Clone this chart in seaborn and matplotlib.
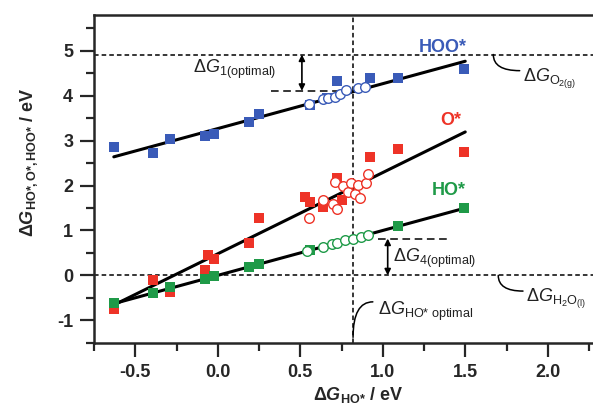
import numpy as np
import pandas as pd
import matplotlib
matplotlib.use("Agg")
import matplotlib.pyplot as plt
import seaborn as sns

# ---------------- data ----------------
hoo_x = [-0.63, -0.39, -0.29, -0.08, -0.02, 0.19, 0.25, 0.56, 0.66, 0.72, 0.92, 1.09, 1.49]
hoo_y = [2.86, 2.73, 3.04, 3.11, 3.16, 3.42, 3.59, 3.79, 3.94, 4.33, 4.40, 4.40, 4.60]
o_x = [-0.63, -0.39, -0.29, -0.08, -0.06, -0.02, 0.19, 0.25, 0.53, 0.56, 0.64, 0.72, 0.75, 0.92, 1.09, 1.49]
o_y = [-0.74, -0.10, -0.37, 0.11, 0.46, 0.37, 0.72, 1.28, 1.75, 1.64, 1.53, 2.16, 1.67, 2.63, 2.81, 2.75]
ho_x = [-0.63, -0.39, -0.29, -0.08, -0.02, 0.19, 0.25, 0.56, 1.09, 1.49]
ho_y = [-0.62, -0.40, -0.26, -0.07, -0.02, 0.19, 0.26, 0.56, 1.09, 1.50]

hoo_open_x = [0.55, 0.64, 0.67, 0.71, 0.74, 0.78, 0.85, 0.89]
hoo_open_y = [3.81, 3.93, 3.96, 3.98, 4.04, 4.13, 4.17, 4.20]
o_open_x = [0.55, 0.64, 0.70, 0.72, 0.71, 0.76, 0.79, 0.81, 0.83, 0.86, 0.85, 0.90, 0.91]
o_open_y = [1.28, 1.67, 1.60, 1.47, 2.08, 2.00, 1.86, 2.05, 1.82, 1.73, 2.01, 2.05, 2.25]
ho_open_x = [0.54, 0.64, 0.69, 0.72, 0.77, 0.82, 0.87, 0.91]
ho_open_y = [0.54, 0.63, 0.69, 0.73, 0.78, 0.82, 0.86, 0.89]

fit_range = [-0.63, 1.50]
hoo_fit = (1.00, 3.27)
o_fit = (1.81, 0.48)
ho_fit = (1.00, 0.00)

dG_O2 = 4.92
dG_H2O = 0.0
dG_HO_opt = 0.82
dG1_level = 4.11
dG4_level = 0.82

blue = "#3a5bb8"
red = "#ee3327"
green = "#1f9a48"

sns.set_theme(style="ticks")
plt.rcParams["font.family"] = ["Liberation Sans", "DejaVu Sans"]
plt.rcParams["mathtext.fontset"] = "custom"
plt.rcParams["mathtext.rm"] = "Liberation Sans"
plt.rcParams["mathtext.it"] = "Liberation Sans:italic"
plt.rcParams["mathtext.bf"] = "Liberation Sans:bold"
plt.rcParams["mathtext.bfit"] = "Liberation Sans:italic:bold"

x_max = 2.75
px_per_ev = 165.0
fig = plt.figure(figsize=(5.93, 4.04), dpi=100)
ax = fig.add_axes([94 / 593, 61.3 / 404, (x_max + 0.75) * px_per_ev / 593, 327.7 / 404])

dash = (0, (3, 2))
ax.axhline(dG_O2, color="black", lw=1.1, ls=dash, zorder=1)
ax.axhline(dG_H2O, color="black", lw=1.1, ls=dash, zorder=1)
ax.axvline(dG_HO_opt, color="black", lw=1.1, ls=dash, zorder=1)

for (m, b) in (hoo_fit, o_fit, ho_fit):
    xs = np.array(fit_range)
    d = pd.DataFrame({"x": xs, "y": m * xs + b})
    sns.lineplot(data=d, x="x", y="y", ax=ax, color="black", lw=2.2, zorder=3)

for xs, ys, c in ((hoo_x, hoo_y, blue), (o_x, o_y, red), (ho_x, ho_y, green)):
    d = pd.DataFrame({"x": xs, "y": ys})
    sns.scatterplot(data=d, x="x", y="y", ax=ax, marker="s", s=42, color=c,
                    edgecolor=c, linewidth=0, zorder=4)

for xs, ys, c in ((hoo_open_x, hoo_open_y, blue), (o_open_x, o_open_y, red),
                  (ho_open_x, ho_open_y, green)):
    d = pd.DataFrame({"x": xs, "y": ys})
    sns.scatterplot(data=d, x="x", y="y", ax=ax, marker="o", s=48, facecolor="white",
                    edgecolor=c, linewidth=1.0, zorder=5)

ax.plot([0.32, 0.82], [dG1_level, dG1_level], color="black", lw=1.1, ls=(0, (5, 3)), zorder=2)
ax.plot([0.97, 1.39], [dG4_level, dG4_level], color="black", lw=1.1, ls=(0, (5, 3)), zorder=2)

arrow_kw = dict(arrowstyle="<|-|>", color="black", lw=1.2, mutation_scale=9, shrinkA=0, shrinkB=0)
ax.annotate("", xy=(0.51, dG_O2), xytext=(0.51, dG1_level), arrowprops=arrow_kw)
ax.annotate("", xy=(1.03, dG4_level), xytext=(1.03, dG_H2O), arrowprops=arrow_kw)

lead_kw = dict(arrowstyle="-", color="black", lw=1.1, shrinkA=0, shrinkB=0,
               connectionstyle="angle3,angleA=0,angleB=90")
ax.annotate("", xy=(1.67, dG_O2), xytext=(1.83, 4.56), arrowprops=lead_kw)
ax.annotate("", xy=(1.70, dG_H2O), xytext=(1.85, -0.35), arrowprops=lead_kw)
ax.annotate("", xy=(dG_HO_opt, -1.38), xytext=(0.94, -0.59), arrowprops=lead_kw)

fs = 13
ax.text(-0.15, 4.50, r"$\Delta G_{\mathrm{1(optimal)}}$", fontsize=fs, color="#222222", va="baseline")
ax.text(1.065, 0.30, r"$\Delta G_{\mathrm{4(optimal)}}$", fontsize=fs, color="#222222", va="baseline")
ax.text(1.85, 4.31, r"$\Delta G_{\mathrm{O_{2(g)}}}$", fontsize=fs, color="#222222", va="baseline")
ax.text(1.87, -0.60, r"$\Delta G_{\mathrm{H_2O_{(l)}}}$", fontsize=fs, color="#222222", va="baseline")
ax.text(0.97, -0.89, r"$\Delta G_{\mathrm{HO{*}\ optimal}}$", fontsize=fs, color="#222222", va="baseline")

ax.text(1.365, 5.07, "HOO*", color=blue, fontsize=13, fontweight="bold", ha="center", va="center")
ax.text(1.41, 3.46, "O*", color=red, fontsize=13, fontweight="bold", ha="center", va="center")
ax.text(1.40, 1.90, "HO*", color=green, fontsize=13, fontweight="bold", ha="center", va="center")

ax.set_xlim(-0.75, x_max)
ax.set_ylim(-1.5, 5.8)
ax.set_xticks([-0.5, 0.0, 0.5, 1.0, 1.5, 2.0])
ax.set_xticklabels(["-0.5", "0.0", "0.5", "1.0", "1.5", "2.0"])
ax.set_xticks([-0.75, -0.25, 0.25, 0.75, 1.25, 1.75, 2.25], minor=True)
ax.set_yticks([-1, 0, 1, 2, 3, 4, 5])
ax.set_yticklabels(["-1", "0", "1", "2", "3", "4", "5"])
ax.set_yticks(np.arange(-1.5, 5.81, 0.5), minor=True)
ax.tick_params(axis="both", which="major", length=10, width=1.6, labelsize=13, pad=5)
ax.tick_params(axis="both", which="minor", length=6, width=1.6)
for lab in ax.get_xticklabels() + ax.get_yticklabels():
    lab.set_fontweight("bold")
for name, sp in ax.spines.items():
    sp.set_linewidth(1.8)
    sp.set_visible(name != "right")

ax.set_xlabel(r"$\mathbf{\Delta}\mathbfit{G}_{\mathbf{HO{*}}}\ $/ eV", fontsize=13, fontweight="bold")
ax.set_ylabel(r"$\mathbf{\Delta}\mathbfit{G}_{\mathbf{HO{*},O{*},HOO{*}}}\ $/ eV", fontsize=13, fontweight="bold")
ax.xaxis.set_label_coords((358 - 94) / ((x_max + 0.75) * px_per_ev), -0.128)
ax.yaxis.set_label_coords(-0.10 * 536 / ((x_max + 0.75) * px_per_ev), 0.55)

fig.savefig("out.png", dpi=100)
